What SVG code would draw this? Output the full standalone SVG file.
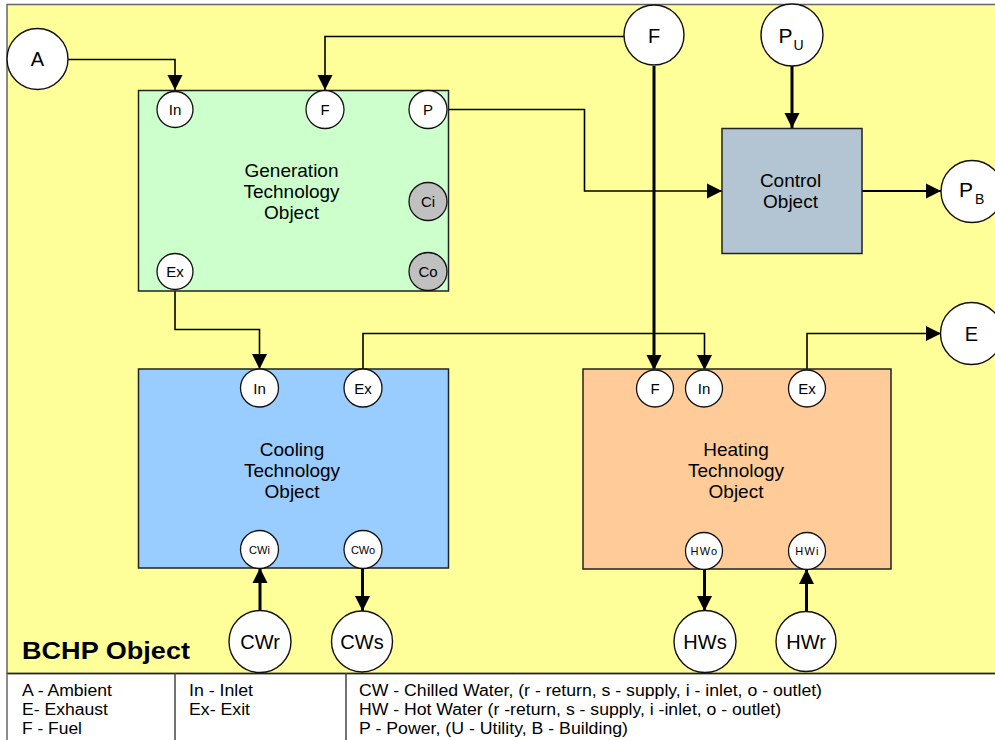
<svg xmlns="http://www.w3.org/2000/svg" width="995" height="740" viewBox="0 0 995 740">
<style>
text{font-family:"Liberation Sans",Arial,sans-serif;fill:#000}
.box{stroke:#222;stroke-width:1.5}
.port{fill:#fff;stroke:#111;stroke-width:1.3}
.gport{fill:#c0c0c0;stroke:#111;stroke-width:1.3}
.ext{fill:#fff;stroke:#111;stroke-width:1.4}
.thin{fill:none;stroke:#000;stroke-width:1.6}
.thick{fill:none;stroke:#000;stroke-width:3}
.mid{fill:none;stroke:#000;stroke-width:2.2}
.pl{font-size:15px;text-anchor:middle}
.sl{font-size:11px;text-anchor:middle}
.el{font-size:20px;text-anchor:middle}
.bl{font-size:19px;text-anchor:middle}
.lg{font-size:16px}
</style>
<defs>
<marker id="ah" markerUnits="userSpaceOnUse" markerWidth="16" markerHeight="16" refX="15" refY="8" orient="auto" viewBox="0 0 16 16">
<path d="M0,0.5 L15,8 L0,15.5 z" fill="#000"/>
</marker>
</defs>
<!-- background -->
<rect x="0" y="0" width="995" height="740" fill="#fff"/>
<rect x="7" y="4.5" width="995" height="669" fill="#ffff99" stroke="#666" stroke-width="1.5"/>
<line x1="7" y1="673.5" x2="995" y2="673.5" stroke="#222" stroke-width="1.5"/>
<g id="legend">
<line x1="7" y1="673" x2="7" y2="740" stroke="#666" stroke-width="1.5"/>
<line x1="175" y1="673" x2="175" y2="740" stroke="#444" stroke-width="1.5"/>
<line x1="346" y1="673" x2="346" y2="740" stroke="#444" stroke-width="1.5"/>
<text class="lg" x="22" y="696" textLength="90" lengthAdjust="spacingAndGlyphs">A - Ambient</text>
<text class="lg" x="22" y="715" textLength="86" lengthAdjust="spacingAndGlyphs">E- Exhaust</text>
<text class="lg" x="22" y="734" textLength="60" lengthAdjust="spacingAndGlyphs">F - Fuel</text>
<text class="lg" x="189" y="696" textLength="64" lengthAdjust="spacingAndGlyphs">In - Inlet</text>
<text class="lg" x="189" y="715" textLength="61" lengthAdjust="spacingAndGlyphs">Ex- Exit</text>
<text class="lg" x="359" y="696" textLength="463" lengthAdjust="spacingAndGlyphs">CW - Chilled Water, (r - return, s - supply, i - inlet, o - outlet)</text>
<text class="lg" x="359" y="715" textLength="422" lengthAdjust="spacingAndGlyphs">HW - Hot Water (r -return, s - supply, i -inlet, o - outlet)</text>
<text class="lg" x="359" y="734" textLength="269" lengthAdjust="spacingAndGlyphs">P - Power, (U - Utility, B - Building)</text>
</g>
<text x="22" y="659" font-size="23" font-weight="bold" textLength="168" lengthAdjust="spacingAndGlyphs">BCHP Object</text>

<g id="connectors">
<polyline class="thin" points="68,59.5 175,59.5 175,90" marker-end="url(#ah)"/>
<polyline class="thin" points="624,36.5 325,36.5 325,90" marker-end="url(#ah)"/>
<polyline class="thin" points="446,109.5 584.5,109.5 584.5,191 722,191" marker-end="url(#ah)"/>
<line class="thick" x1="654" y1="66" x2="654" y2="370" marker-end="url(#ah)"/>
<line class="thick" x1="792" y1="66" x2="792" y2="128" marker-end="url(#ah)"/>
<line class="mid" x1="862" y1="191" x2="941" y2="191" marker-end="url(#ah)"/>
<polyline class="thin" points="175,290 175,329.5 259.5,329.5 259.5,369" marker-end="url(#ah)"/>
<polyline class="thin" points="363,369 363,333.5 704.5,333.5 704.5,370" marker-end="url(#ah)"/>
<polyline class="thin" points="807,370 807,333.5 941,333.5" marker-end="url(#ah)"/>
<line class="thick" x1="260" y1="611" x2="260" y2="568" marker-end="url(#ah)"/>
<line class="thick" x1="362.5" y1="568" x2="362.5" y2="611" marker-end="url(#ah)"/>
<line class="thick" x1="704.5" y1="569" x2="704.5" y2="611" marker-end="url(#ah)"/>
<line class="thick" x1="806.5" y1="611" x2="806.5" y2="569" marker-end="url(#ah)"/>
</g>

<g id="generation">
<rect class="box" x="138.5" y="90.5" width="310" height="200.5" fill="#ccffcc"/>
<text class="bl" x="291.5" y="177">Generation</text>
<text class="bl" x="291.5" y="198">Technology</text>
<text class="bl" x="291.5" y="219">Object</text>
<g id="gen-in"><circle class="port" cx="175" cy="109.5" r="18"/><text class="pl" x="175" y="115">In</text></g>
<g id="gen-f"><circle class="port" cx="325" cy="109.5" r="19"/><text class="pl" x="325" y="115">F</text></g>
<g id="gen-p"><circle class="port" cx="428" cy="109.5" r="19"/><text class="pl" x="428" y="115">P</text></g>
<g id="gen-ci"><circle class="gport" cx="428" cy="201.5" r="19"/><text class="pl" x="428" y="207">Ci</text></g>
<g id="gen-co"><circle class="gport" cx="428" cy="271.5" r="19"/><text class="pl" x="428" y="277">Co</text></g>
<g id="gen-ex"><circle class="port" cx="175" cy="271.5" r="18"/><text class="pl" x="175" y="277">Ex</text></g>
</g>

<g id="control">
<rect class="box" x="722" y="128.5" width="140" height="125" fill="#b3c5d3" stroke="#333"/>
<text class="bl" x="790.5" y="187">Control</text>
<text class="bl" x="790.5" y="208">Object</text>
</g>

<g id="cooling">
<rect class="box" x="138.5" y="369" width="310" height="199" fill="#99ccff"/>
<text class="bl" x="292" y="456">Cooling</text>
<text class="bl" x="292" y="477">Technology</text>
<text class="bl" x="292" y="498">Object</text>
<g id="cool-in"><circle class="port" cx="259.5" cy="388" r="19"/><text class="pl" x="259.5" y="393.5">In</text></g>
<g id="cool-ex"><circle class="port" cx="363" cy="388" r="19"/><text class="pl" x="363" y="393.5">Ex</text></g>
<g id="cool-cwi"><circle class="port" cx="259.5" cy="549.5" r="19"/><text class="sl" x="259.5" y="553.5">CWi</text></g>
<g id="cool-cwo"><circle class="port" cx="363" cy="549.5" r="19"/><text class="sl" x="363" y="553.5">CWo</text></g>
</g>

<g id="heating">
<rect class="box" x="583" y="369" width="308" height="200" fill="#ffcc99"/>
<text class="bl" x="736" y="456">Heating</text>
<text class="bl" x="736" y="477">Technology</text>
<text class="bl" x="736" y="498">Object</text>
<g id="heat-f"><circle class="port" cx="655" cy="388.5" r="18.5"/><text class="pl" x="655" y="394">F</text></g>
<g id="heat-in"><circle class="port" cx="704" cy="388.5" r="18.5"/><text class="pl" x="704" y="394">In</text></g>
<g id="heat-ex"><circle class="port" cx="807" cy="388.5" r="18.5"/><text class="pl" x="807" y="394">Ex</text></g>
<g id="heat-hwo"><circle class="port" cx="704" cy="551" r="18.5"/><text class="sl" x="704.5" y="555" letter-spacing="1.2">HWo</text></g>
<g id="heat-hwi"><circle class="port" cx="807" cy="551" r="18.5"/><text class="sl" x="807.5" y="555" letter-spacing="1.2">HWi</text></g>
</g>

<g id="node-a"><circle class="ext" cx="37.5" cy="59" r="30.5"/><text class="el" x="37.5" y="66">A</text></g>
<g id="node-f"><circle class="ext" cx="654" cy="35" r="30"/><text class="el" x="654" y="43">F</text></g>
<g id="node-pu"><circle class="ext" cx="792" cy="35" r="31"/><text font-size="21" x="778.5" y="43">P</text><text font-size="14" x="793.5" y="50">U</text></g>
<g id="node-pb"><circle class="ext" cx="972" cy="191.5" r="31"/><text font-size="21" x="959" y="197">P</text><text font-size="14" x="975" y="204">B</text></g>
<g id="node-e"><circle class="ext" cx="971.5" cy="333.5" r="31"/><text class="el" x="971.5" y="341">E</text></g>
<g id="node-cwr"><circle class="ext" cx="260" cy="641.5" r="31"/><text class="el" x="260" y="649">CWr</text></g>
<g id="node-cws"><circle class="ext" cx="362" cy="641.5" r="30.5"/><text class="el" x="362" y="649">CWs</text></g>
<g id="node-hws"><circle class="ext" cx="705" cy="641.5" r="31"/><text class="el" x="705" y="649">HWs</text></g>
<g id="node-hwr"><circle class="ext" cx="806" cy="641.5" r="30"/><text class="el" x="806" y="649">HWr</text></g>
</svg>
